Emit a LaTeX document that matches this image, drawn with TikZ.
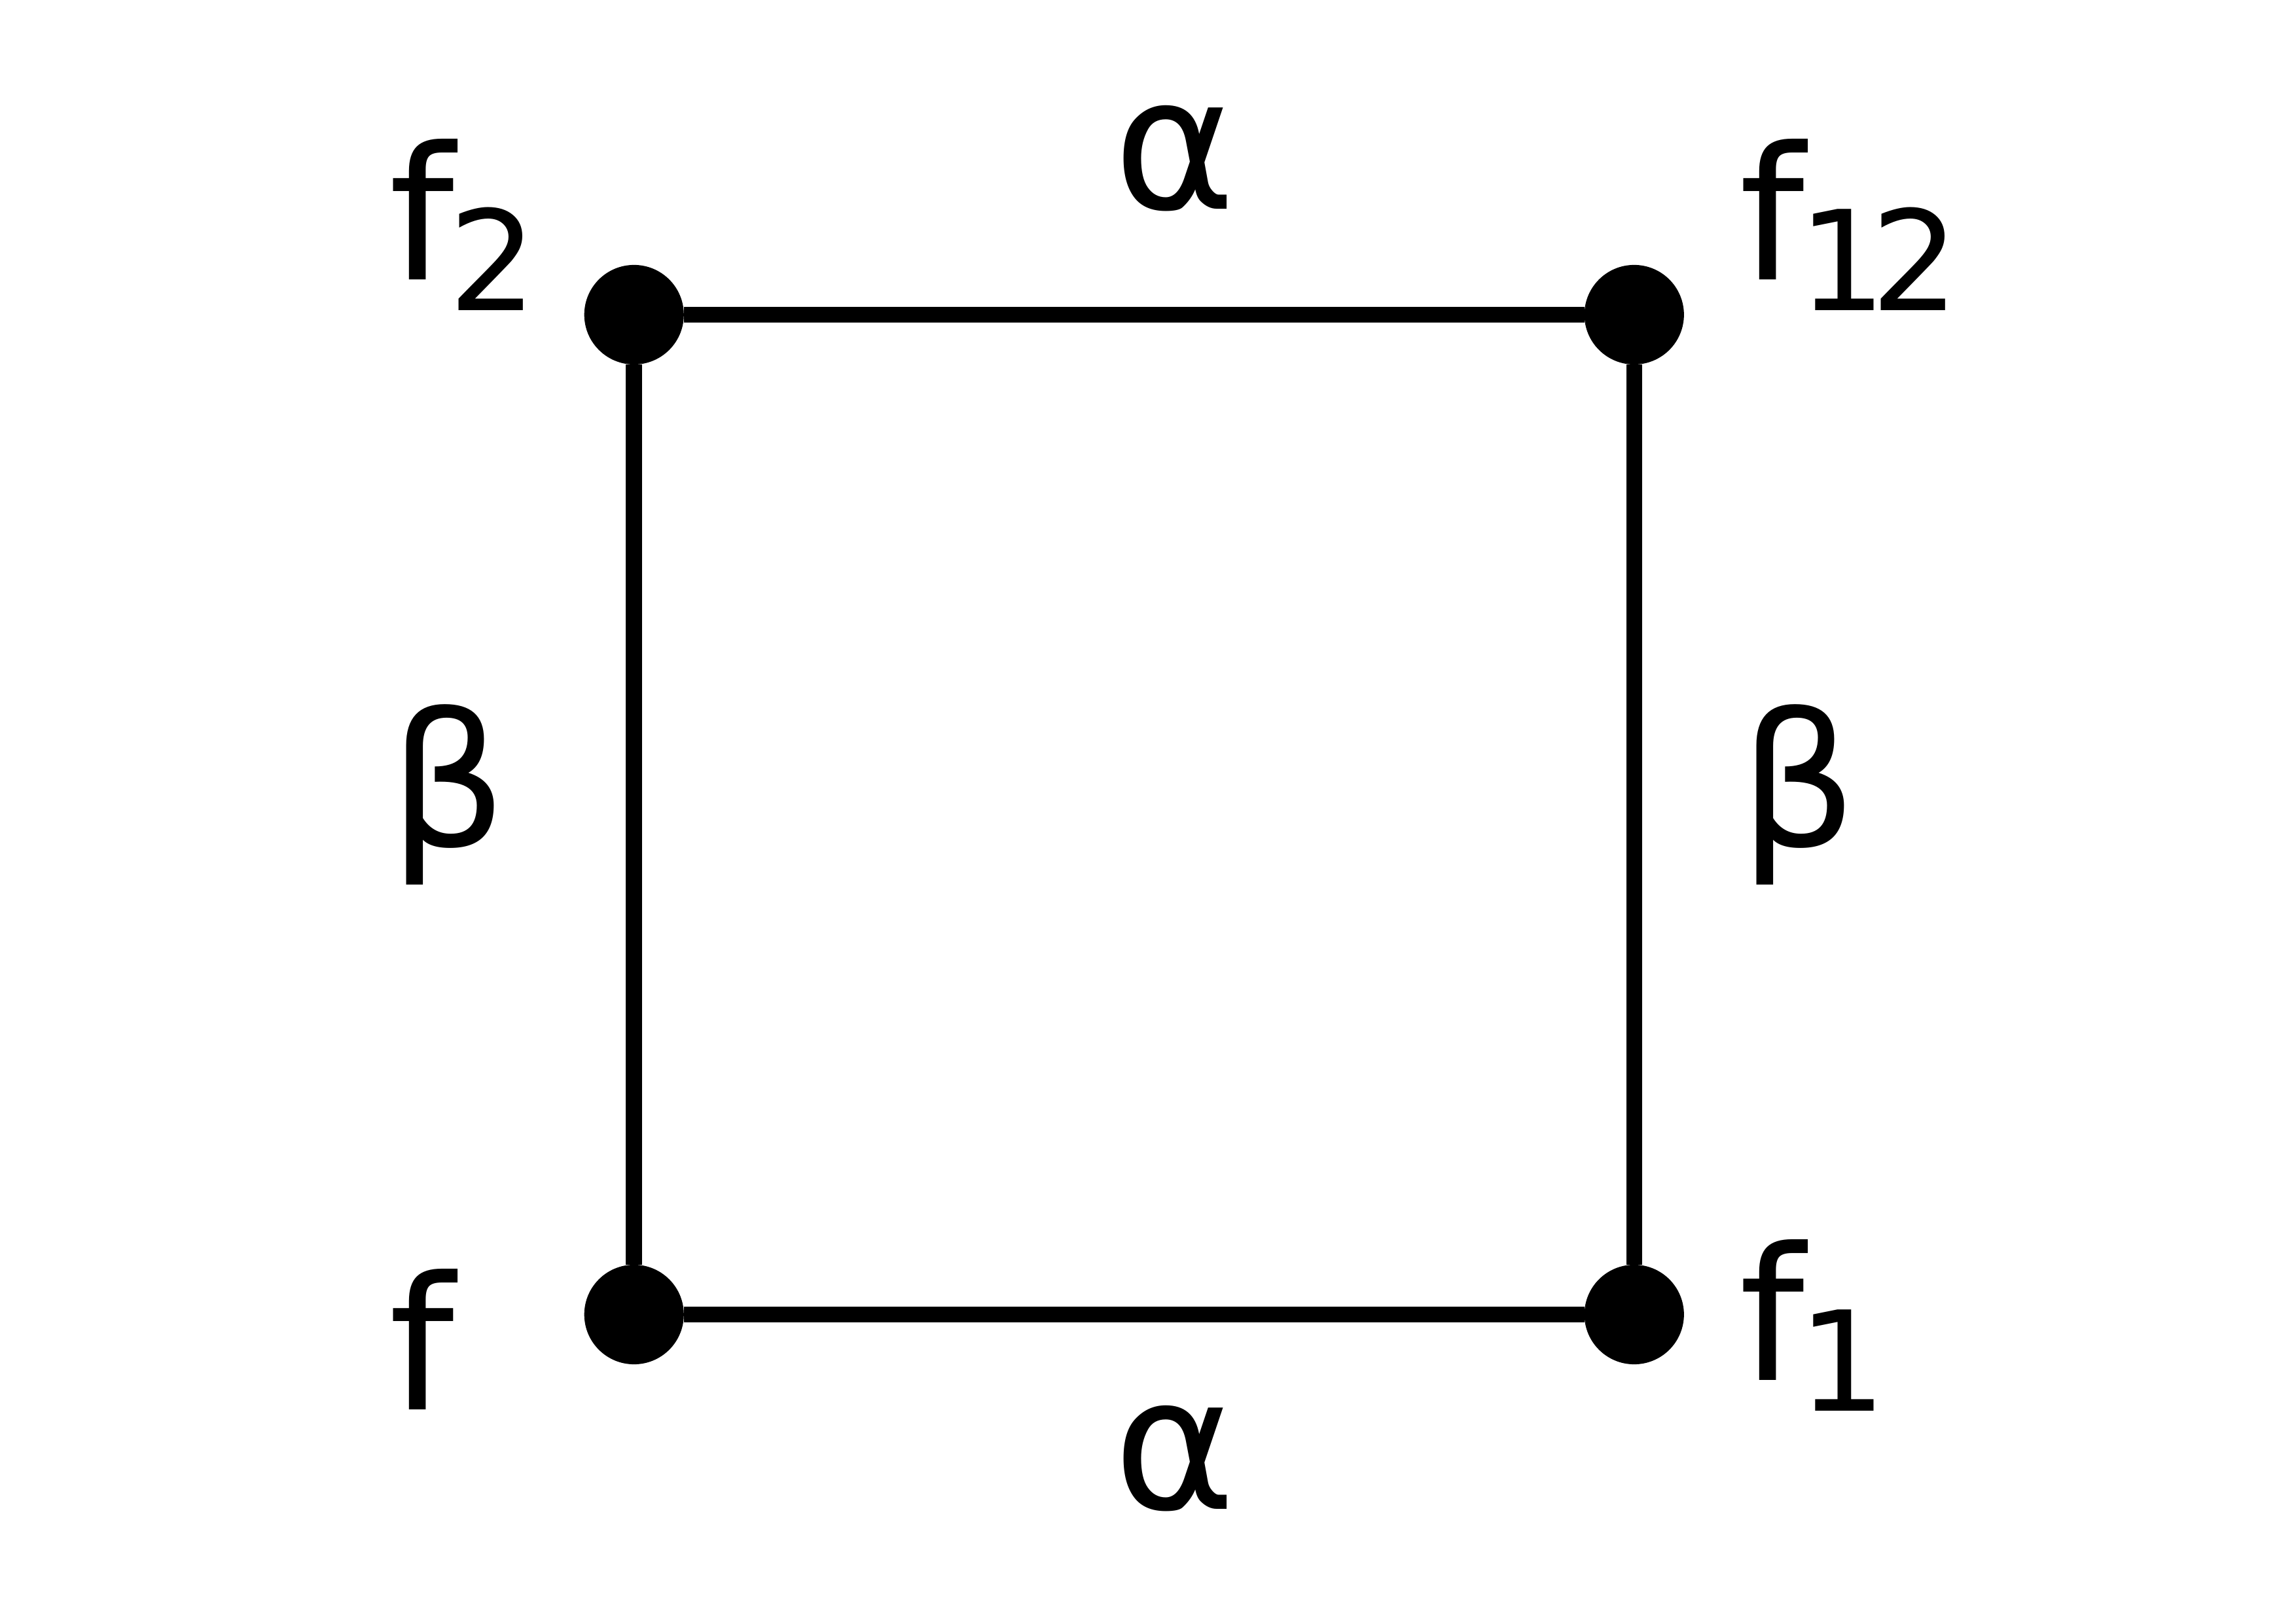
\documentclass[tikz,border=0pt]{standalone}
\usepackage{fontspec}
\setmainfont{DejaVu Sans}
\usetikzlibrary{positioning}
\newcommand{\subtxt}[1]{\kern-0.04cm\raisebox{-0.21cm}{\fontsize{27}{27}\selectfont #1}}

\begin{document}
\begin{tikzpicture}[
    node distance=6.83cm, on grid,
    vertex/.style={circle, fill=black, inner sep=0pt, outer sep=0pt, minimum size=0.68cm},
    tag/.style={inner sep=0pt, anchor=base west, font=\fontsize{36}{36}\selectfont},
    edge/.style={line width=0.11cm}
  ]
    \useasboundingbox (0,0) rectangle (15.68,11.09);
    \node[vertex] at (4.33,2.11) (f) {};
    \node[vertex, right=of f] (fone) {};
    \node[vertex, above=of f] (ftwo) {};
    \node[vertex, above=of fone] (fonetwo) {};

    \draw[edge] (f) -- (fone);
    \draw[edge] (ftwo) -- (fonetwo);
    \draw[edge] (f) -- (ftwo);
    \draw[edge] (fone) -- (fonetwo);

    \node[tag] (labf) at (2.65,1.46) {f};
    \node[tag] (labfone) at (11.87,1.66) {f\subtxt{1}};
    \node[tag] (labftwo) at (2.65,9.18) {f\subtxt{2}};
    \node[tag] (labfonetwo) at (11.87,9.18) {f\subtxt{1\kern-0.11cm 2}};
    \node[tag] (alphatop) at (7.60,9.66) {α};
    \node[tag] (alphabot) at (7.60,0.78) {α};
    \node[tag] (betaleft) at (2.65,5.31) {β};
    \node[tag] (betaright) at (11.87,5.31) {β};
  \end{tikzpicture}
\end{document}
